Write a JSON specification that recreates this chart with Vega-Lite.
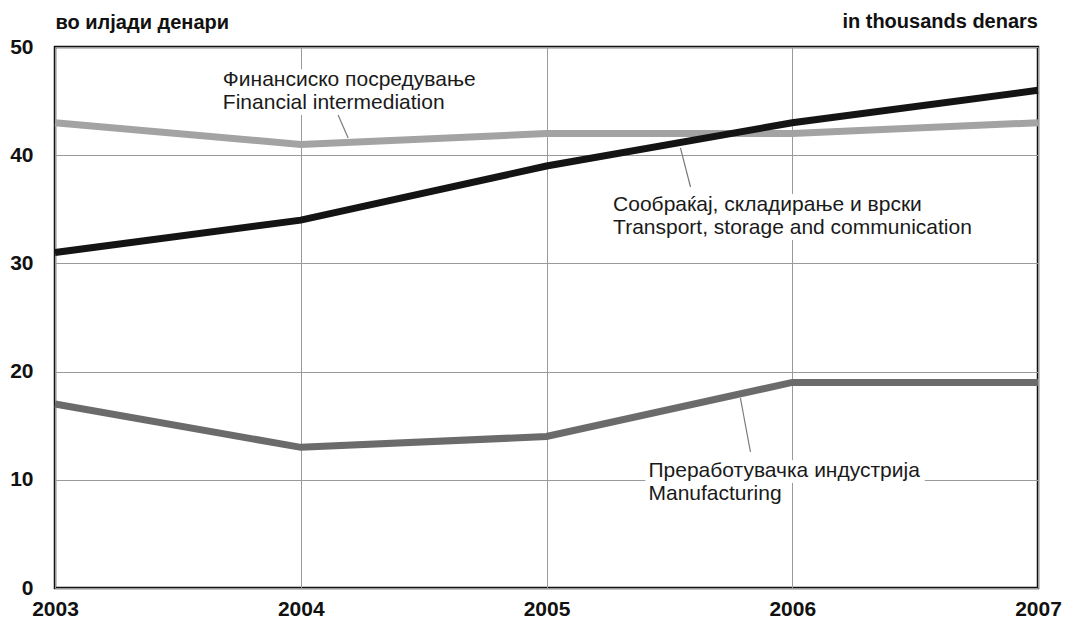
{
  "$schema": "https://vega.github.io/schema/vega-lite/v6.json",
  "width": 983,
  "height": 541,
  "autosize": {"type": "none"},
  "padding": {"left": 55, "top": 47, "right": 27, "bottom": 31},
  "background": "white",
  "config": {
    "font": "Liberation Sans",
    "view": {"stroke": "#111111", "strokeWidth": 2.5}
  },
  "datasets": {
    "series": [
      {"series": "Manufacturing", "year": 2003, "value": 17},
      {"series": "Manufacturing", "year": 2004, "value": 13},
      {"series": "Manufacturing", "year": 2005, "value": 14},
      {"series": "Manufacturing", "year": 2006, "value": 19},
      {"series": "Manufacturing", "year": 2007, "value": 19},
      {"series": "Financial intermediation", "year": 2003, "value": 43},
      {"series": "Financial intermediation", "year": 2004, "value": 41},
      {"series": "Financial intermediation", "year": 2005, "value": 42},
      {"series": "Financial intermediation", "year": 2006, "value": 42},
      {"series": "Financial intermediation", "year": 2007, "value": 43},
      {"series": "Transport, storage and communication", "year": 2003, "value": 31},
      {"series": "Transport, storage and communication", "year": 2004, "value": 34},
      {"series": "Transport, storage and communication", "year": 2005, "value": 39},
      {"series": "Transport, storage and communication", "year": 2006, "value": 43},
      {"series": "Transport, storage and communication", "year": 2007, "value": 46}
    ],
    "labels": [
      {"text": "Финансиско посредување\nFinancial intermediation", "year": 2003.683, "value": 46.4},
      {"text": "Сообраќај, складирање и врски\nTransport, storage and communication", "year": 2005.271, "value": 34.84},
      {"text": "Преработувачка индустрија\nManufacturing", "year": 2005.415, "value": 10.26}
    ],
    "leaders": [
      {"year": 2004.152, "value": 43.72, "year2": 2004.193, "value2": 41.6},
      {"year": 2005.545, "value": 40.67, "year2": 2005.586, "value2": 37.06},
      {"year": 2005.789, "value": 17.56, "year2": 2005.83, "value2": 12.57}
    ]
  },
  "layer": [
    {
      "data": {"name": "labels"},
      "mark": {
        "type": "text",
        "align": "left",
        "baseline": "alphabetic",
        "fontSize": 21,
        "lineHeight": 23,
        "lineBreak": "\n",
        "fill": "white",
        "stroke": "white",
        "strokeWidth": 12,
        "strokeJoin": "round"
      },
      "encoding": {
        "x": {
          "field": "year",
          "type": "quantitative",
          "scale": {"domain": [2003, 2007], "nice": false, "zero": false},
          "axis": {
            "values": [2003, 2004, 2005, 2006, 2007],
            "format": "d",
            "title": null,
            "grid": true,
            "gridColor": "#9a9a9a",
            "gridWidth": 1,
            "domain": false,
            "ticks": false,
            "labelFontSize": 21,
            "labelFontWeight": "bold",
            "labelColor": "#111111",
            "labelPadding": 10,
            "labelBaseline": "top",
            "labelFlush": false
          }
        },
        "y": {
          "field": "value",
          "type": "quantitative",
          "scale": {"domain": [0, 50], "nice": false},
          "axis": {
            "values": [0, 10, 20, 30, 40, 50],
            "title": "во илјади денари",
            "titleAngle": 0,
            "titleAlign": "left",
            "titleBaseline": "alphabetic",
            "titleX": 0,
            "titleY": -19,
            "titleFontSize": 20,
            "titleFontWeight": "bold",
            "titleColor": "#111111",
            "grid": true,
            "gridColor": "#9a9a9a",
            "gridWidth": 1,
            "domain": false,
            "ticks": false,
            "labelFontSize": 21,
            "labelFontWeight": "bold",
            "labelColor": "#111111",
            "labelPadding": 22
          }
        },
        "text": {"field": "text", "type": "nominal"}
      }
    },
    {
      "data": {"name": "labels"},
      "mark": {
        "type": "text",
        "align": "left",
        "baseline": "alphabetic",
        "fontSize": 21,
        "lineHeight": 23,
        "lineBreak": "\n",
        "color": "#1a1a1a"
      },
      "encoding": {
        "x": {"field": "year", "type": "quantitative"},
        "y": {"field": "value", "type": "quantitative"},
        "text": {"field": "text", "type": "nominal"}
      }
    },
    {
      "data": {"name": "leaders"},
      "mark": {"type": "rule", "color": "#7a7a7a", "strokeWidth": 1.2},
      "encoding": {
        "x": {"field": "year", "type": "quantitative"},
        "y": {"field": "value", "type": "quantitative"},
        "x2": {"field": "year2"},
        "y2": {"field": "value2"}
      }
    },
    {
      "data": {"name": "series"},
      "mark": {"type": "line", "strokeWidth": 7, "strokeCap": "butt", "strokeJoin": "miter"},
      "encoding": {
        "x": {"field": "year", "type": "quantitative"},
        "y": {"field": "value", "type": "quantitative"},
        "color": {
          "field": "series",
          "type": "nominal",
          "scale": {
            "domain": ["Manufacturing", "Financial intermediation", "Transport, storage and communication"],
            "range": ["#6b6b6b", "#a3a3a3", "#141414"]
          },
          "legend": null
        }
      }
    },
    {
      "data": {"values": [{"t": "in thousands denars"}]},
      "mark": {
        "type": "text",
        "align": "right",
        "baseline": "alphabetic",
        "dy": -19,
        "fontSize": 20,
        "fontWeight": "bold",
        "color": "#111111"
      },
      "encoding": {
        "x": {"datum": 2007, "type": "quantitative"},
        "y": {"datum": 50, "type": "quantitative"},
        "text": {"field": "t", "type": "nominal"}
      }
    }
  ]
}
